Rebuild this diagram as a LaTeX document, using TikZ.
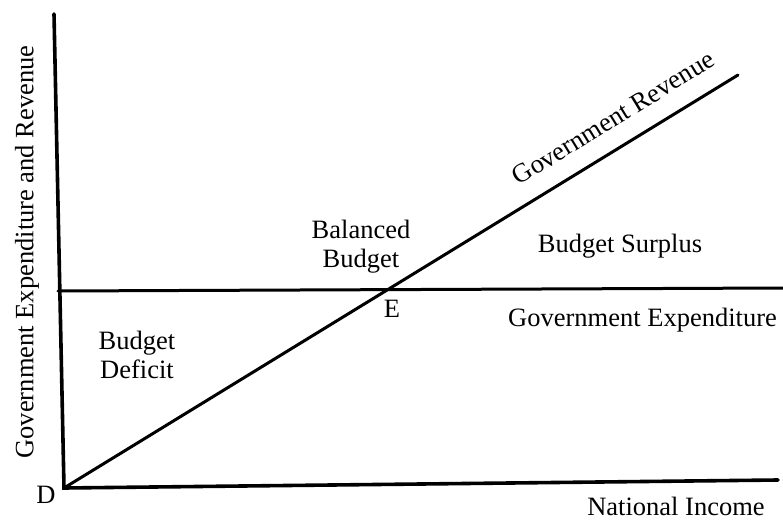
\documentclass[tikz,border=0pt]{standalone}
\usepackage{fontspec}
\setmainfont{Liberation Serif}
\begin{document}
\begin{tikzpicture}[x=1pt,y=-1pt,
  axis/.style={line width=3.6pt,line cap=round},
  curve/.style={line width=3pt,line cap=round},
  lbl/.style={font=\fontsize{26.5}{29}\selectfont,inner sep=0pt,align=center}]
\useasboundingbox (0,0) rectangle (783,521);
\coordinate (D) at (64,488);
\coordinate (ytop) at (54,14);
\coordinate (xend) at (778,480);
\coordinate (gel) at (58,291);
\coordinate (ger) at (783,288);
\coordinate (grend) at (738,75);
\draw[axis] (ytop) -- (D) -- (xend);
\draw[curve] (gel) -- (ger);
\draw[curve] (D) -- (grend);
\node[lbl,rotate=90] (ylab) at (27,252) {Government Expenditure and Revenue};
\node[lbl] (d) at (46,495) {D};
\node[lbl] (e) at (392,309) {E};
\node[lbl] (bal) at (361,247) {Balanced\\Budget};
\node[lbl] (def) at (137,355) {Budget\\Deficit};
\node[lbl] (sur) at (620,246) {Budget Surplus};
\node[lbl,anchor=west] (gexp) at (508,320) {Government Expenditure};
\node[lbl] (ni) at (676,506) {National Income};
\node[lbl,rotate=31.5] (grev) at (613,118) {Government Revenue};
\end{tikzpicture}
\end{document}
